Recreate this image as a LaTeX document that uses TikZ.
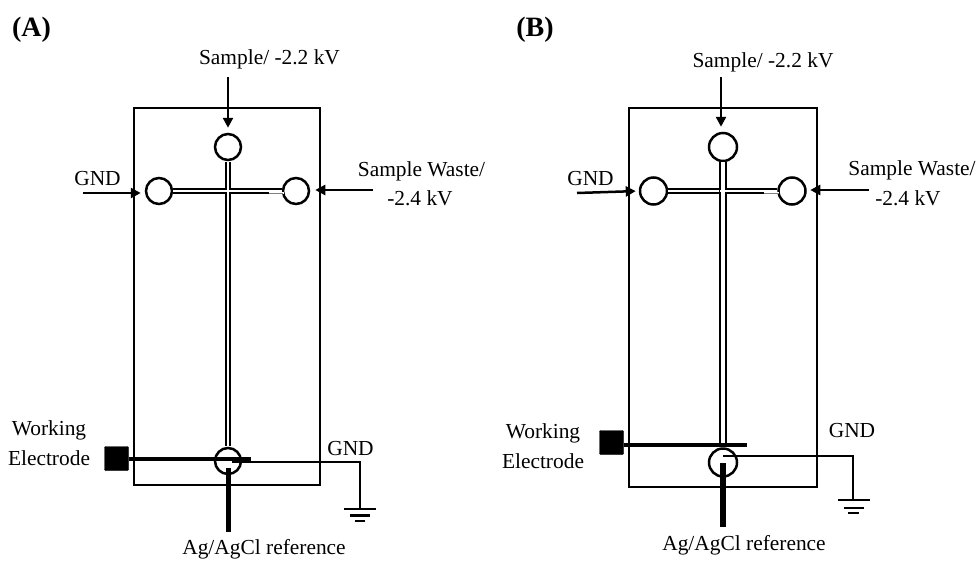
\documentclass[tikz,border=0pt]{standalone}
\usepackage{fontspec}
\setmainfont{Liberation Serif}
\usetikzlibrary{arrows.meta}
\tikzset{
 x=1pt,y=-1pt,
 lbl/.style={inner sep=0pt,font=\fontsize{21.4}{24}\selectfont},
 head/.style={inner sep=0pt,font=\fontsize{28}{30}\selectfont\bfseries},
 chip/.style={draw=black,line width=2.5pt,minimum width=#1,inner sep=0pt},
 well/.style={circle,draw=black,line width=2.5pt,fill=white,minimum size=#1,inner sep=0pt},
 chan/.style={draw=black,line width=2pt,double=white,double distance=2.4pt},
 arr/.style={draw=black,line width=2.5pt,-{Triangle[length=10pt,width=10pt]}},
 pad/.style={fill=black,draw=black,rounded corners=1pt,minimum size=24pt,inner sep=0pt},
 wel/.style={draw=black,line width=3.8pt},
 ref/.style={draw=black,line width=5.5pt},
 wire/.style={draw=black,line width=2.5pt},
 gnd1/.style={draw=black,line width=2.5pt},
 gnd2/.style={draw=black,line width=2.8pt},
}
\begin{document}
\begin{tikzpicture}
\useasboundingbox (0,0) rectangle (979,560);
% ---------- Panel A
\node[head] (hA) at (31.5,30) {(A)};
\node[chip=186pt,minimum height=377pt] (chipA) at (227,296.5) {};
\node[well=26pt] (aT) at (228,147) {};
\node[well=26pt] (aL) at (159,191) {};
\node[well=26pt] (aR) at (296,191) {};
\node[well=26pt] (aB) at (228,461) {};
\draw[chan] (aL.east) -- (aR.west);
\draw[chan] ([yshift=-1pt]aT.south) -- ([yshift=1pt]aB.north);
\fill[white] (226.9,189.6) rectangle (229.5,192.4);
\fill[white] (225,190.3) rectangle (231.4,191.7);
\fill[white] (269,192) rectangle (284,194.2);
\draw[gray,line width=.8pt] (269,193) -- (283,193);
\node[lbl] (aSample) at (269.5,59) {Sample/ -2.2 kV};
\node[lbl] (aGnd) at (97.5,179) {GND};
\node[lbl] (aWaste1) at (421.5,171) {Sample Waste/};
\node[lbl] (aWaste2) at (420,198) {-2.4 kV};
\node[lbl] (aWork1) at (49,430) {Working};
\node[lbl] (aWork2) at (49,458) {Electrode};
\node[lbl] (aGnd2) at (350.5,449) {GND};
\node[lbl] (aRefL) at (264,549) {Ag/AgCl reference};
\coordinate (aTtail) at (228,77);
\coordinate (aLtail) at (83,193);
\coordinate (aRtail) at (373,190);
\draw[arr,shorten >=5pt] (aTtail) -- (aT.north);
\draw[arr,shorten >=4pt] (aLtail) -- (aL.west |- aLtail);
\draw[arr,shorten >=5pt] (aRtail) -- (aR.east |- aRtail);
\node[pad] (aPad) at (116.5,458.5) {};
\coordinate (aWelEnd) at (250.5,459);
\draw[wel] (aPad.east |- aWelEnd) -- (aWelEnd);
\coordinate (aWireStart) at (232,462);
\coordinate (aCorner) at (360,462);
\coordinate (aG) at (360,509);
\draw[wire] (aWireStart) -- (aCorner) -- (aG);
\draw[gnd1] (344,509) -- (376,509);
\draw[gnd2] (350,515.5) -- (370,515.5);
\draw[gnd2] (355,521) -- (365,521);
\coordinate (aRefTop) at (228.5,468);
\coordinate (aRefEnd) at (228.5,532);
\draw[ref] (aRefTop) -- (aRefEnd);
% ---------- Panel B
\node[head] (hB) at (535,30) {(B)};
\node[chip=188pt,minimum height=379pt] (chipB) at (723,297.5) {};
\node[well=28pt] (bT) at (723,147) {};
\node[well=27pt] (bL) at (653.5,191) {};
\node[well=27pt] (bR) at (792,191) {};
\node[well=28pt] (bB) at (723,462.5) {};
\draw[chan] (bL.east) -- (bR.west);
\draw[chan,double distance=3.2pt] (bT.south) -- ([yshift=1pt]bB.north);
\fill[white] (721.4,189.6) rectangle (724.6,192.4);
\fill[white] (719.5,190.3) rectangle (726.5,191.7);
\fill[white] (764,192) rectangle (779,194.2);
\draw[gray,line width=.8pt] (764,193) -- (779,193);
\node[lbl] (bSample) at (763,62) {Sample/ -2.2 kV};
\node[lbl] (bGnd) at (590.5,179) {GND};
\node[lbl] (bWaste1) at (912,170) {Sample Waste/};
\node[lbl] (bWaste2) at (908,198) {-2.4 kV};
\node[lbl] (bWork1) at (543,433) {Working};
\node[lbl] (bWork2) at (543,461) {Electrode};
\node[lbl] (bGnd2) at (852,431) {GND};
\node[lbl] (bRefL) at (744,545) {Ag/AgCl reference};
\coordinate (bTtail) at (721,77);
\coordinate (bLtail) at (577,193);
\coordinate (bRtail) at (869,190);
\draw[arr,shorten >=5pt] (bTtail) -- (bT.north -| bTtail);
\draw[arr,shorten >=3pt] (bLtail) -- (bL.west);
\draw[arr,shorten >=3.5pt] (bRtail) -- (bR.east |- bRtail);
\node[pad] (bPad) at (611.5,442.5) {};
\coordinate (bWelEnd) at (747,445);
\draw[wel] (bPad.east |- bWelEnd) -- (bWelEnd);
\coordinate (bWireStart) at (723,456);
\coordinate (bCorner) at (853,456);
\coordinate (bG) at (853,500);
\draw[wire] (bWireStart) -- (bCorner) -- (bG);
\draw[gnd1] (838,500) -- (870,500);
\draw[gnd2] (844,508) -- (864,508);
\draw[gnd2] (848,513) -- (859,513);
\coordinate (bRefTop) at (723,463);
\coordinate (bRefEnd) at (723,527);
\draw[ref] (bRefTop) -- (bRefEnd);
\end{tikzpicture}
\end{document}
